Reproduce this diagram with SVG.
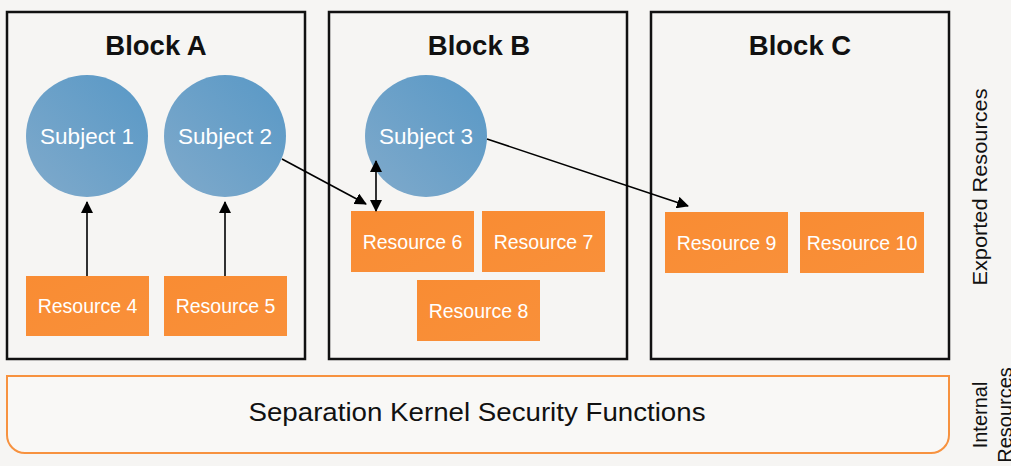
<svg xmlns="http://www.w3.org/2000/svg" width="1011" height="466" viewBox="0 0 1011 466">
<defs>
<linearGradient id="gCircle" x1="0" y1="1" x2="1" y2="0">
<stop offset="0" stop-color="#80aacb"/>
<stop offset="1" stop-color="#5898c6"/>
</linearGradient>
<linearGradient id="gOrange" x1="0" y1="0" x2="1" y2="1">
<stop offset="0" stop-color="#f98c33"/>
<stop offset="1" stop-color="#f9903a"/>
</linearGradient>
<marker id="arr" viewBox="0 0 12 12" refX="11" refY="6" markerWidth="12" markerHeight="12" markerUnits="userSpaceOnUse" orient="auto-start-reverse">
<path d="M0,0 L12,6 L0,12 z" fill="#000"/>
</marker>
</defs>
<style>
.block{fill:none;stroke:#111;stroke-width:2.5}
.title{font-family:"Liberation Sans",Arial,sans-serif;font-weight:bold;font-size:27.5px;fill:#111;text-anchor:middle}
.subj{fill:url(#gCircle)}
.subjt{font-family:"Liberation Sans",Arial,sans-serif;font-size:22.5px;fill:#fff;text-anchor:middle}
.res{fill:url(#gOrange)}
.rest{font-family:"Liberation Sans",Arial,sans-serif;font-size:19.5px;fill:#fff;text-anchor:middle}
.conn{stroke:#000;stroke-width:1.6;fill:none}
.side{font-family:"Liberation Sans",Arial,sans-serif;font-size:20px;fill:#111;text-anchor:middle}
</style>
<rect x="0" y="0" width="1011" height="466" fill="#f6f5f3"/>

<g id="blockA">
<rect class="block" x="7" y="12" width="298" height="347"/>
<text class="title" x="156" y="55">Block A</text>
</g>
<g id="blockB">
<rect class="block" x="329" y="12" width="298" height="347"/>
<text class="title" x="479" y="55">Block B</text>
</g>
<g id="blockC">
<rect class="block" x="651" y="12" width="298" height="347"/>
<text class="title" x="800" y="55">Block C</text>
</g>

<g id="subject1">
<circle class="subj" cx="87" cy="136" r="61"/>
<text class="subjt" x="87" y="144">Subject 1</text>
</g>
<g id="subject2">
<circle class="subj" cx="225" cy="136" r="61"/>
<text class="subjt" x="225" y="144">Subject 2</text>
</g>
<g id="subject3">
<circle class="subj" cx="426" cy="136" r="61"/>
<text class="subjt" x="426" y="144">Subject 3</text>
</g>

<g id="resource4">
<rect class="res" x="26" y="276" width="123" height="60"/>
<text class="rest" x="87.5" y="313">Resource 4</text>
</g>
<g id="resource5">
<rect class="res" x="164" y="276" width="123" height="60"/>
<text class="rest" x="225.5" y="313">Resource 5</text>
</g>
<g id="resource6">
<rect class="res" x="351" y="211" width="123" height="61"/>
<text class="rest" x="412.5" y="249">Resource 6</text>
</g>
<g id="resource7">
<rect class="res" x="482" y="211" width="123" height="61"/>
<text class="rest" x="543.5" y="249">Resource 7</text>
</g>
<g id="resource8">
<rect class="res" x="417" y="280" width="123" height="61"/>
<text class="rest" x="478.5" y="318">Resource 8</text>
</g>
<g id="resource9">
<rect class="res" x="665" y="212" width="123" height="61"/>
<text class="rest" x="726.5" y="250">Resource 9</text>
</g>
<g id="resource10">
<rect class="res" x="800" y="212" width="124" height="61"/>
<text class="rest" x="862" y="250">Resource 10</text>
</g>

<g id="connectors">
<line class="conn" x1="87" y1="276" x2="87" y2="202" marker-end="url(#arr)"/>
<line class="conn" x1="225" y1="276" x2="225" y2="202" marker-end="url(#arr)"/>
<line class="conn" x1="282" y1="159" x2="366" y2="204" marker-end="url(#arr)"/>
<line class="conn" x1="376" y1="161" x2="376" y2="211" marker-start="url(#arr)" marker-end="url(#arr)"/>
<line class="conn" x1="487" y1="139" x2="688" y2="206" marker-end="url(#arr)"/>
</g>

<g id="kernel">
<path d="M7,376 H949 V435 A18,18 0 0 1 931,453 H25 A18,18 0 0 1 7,435 Z" fill="#f9f8f6" stroke="#f7923f" stroke-width="2"/>
<text x="477" y="421" font-family="&quot;Liberation Sans&quot;,Arial,sans-serif" font-size="26" fill="#111" text-anchor="middle" textLength="457" lengthAdjust="spacingAndGlyphs">Separation Kernel Security Functions</text>
</g>

<g id="labels">
<text class="side" transform="translate(987,187) rotate(-90)" textLength="197" lengthAdjust="spacingAndGlyphs">Exported Resources</text>
<text class="side" transform="translate(987,415) rotate(-90)" font-size="21">Internal</text>
<text class="side" transform="translate(1012,415) rotate(-90)" font-size="21">Resources</text>
</g>
</svg>
